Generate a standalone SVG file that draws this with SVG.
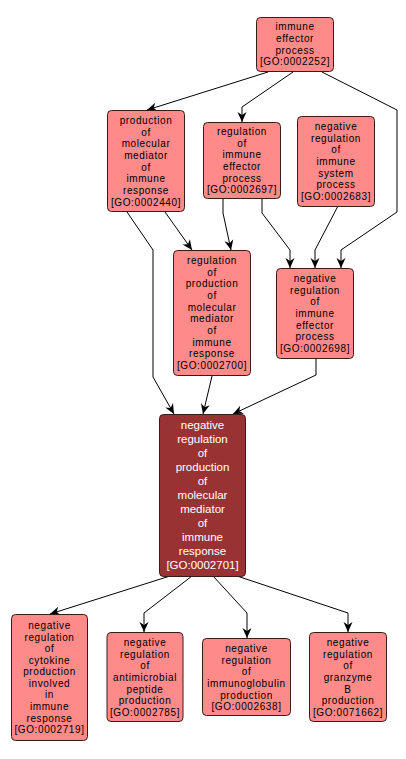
<svg xmlns="http://www.w3.org/2000/svg" width="406" height="759" viewBox="0 0 406 759">
<style>
.n rect{fill:#ff8a8a;stroke:#3a1a1a;stroke-width:1}
.n text{font-family:"Liberation Sans",Arial,sans-serif;font-size:10px;letter-spacing:0.6px;fill:#000;text-anchor:middle}
.c rect{fill:#993333;stroke:#3a1a1a;stroke-width:1}
.c text{font-family:"Liberation Sans",Arial,sans-serif;font-size:11.5px;fill:#fff;text-anchor:middle}
#edges path{fill:none;stroke:#000;stroke-width:1;marker-end:url(#arr)}
</style>
<defs>
<marker id="arr" markerUnits="userSpaceOnUse" markerWidth="12" markerHeight="12" viewBox="-1 -6 12 12" refX="10" refY="0" orient="auto">
<path d="M0,-4.5 L10,0 L0,4.5 L3,0 Z" fill="#000"/>
</marker>
</defs>
<rect width="406" height="759" fill="#fff"/>
<g id="edges">
<path d="M268,72 L147,110"/>
<path d="M293,72 L242,107 L242,122"/>
<path d="M322,72 L397,110 L397,212 L341,250 L341,268"/>
<path d="M165,212 L192,250"/>
<path d="M127,212 L153,250 L153,377 L174,414"/>
<path d="M223,198 L223,213 L231,250"/>
<path d="M262,198 L262,213 L290,250 L290,268"/>
<path d="M338,206 L315,250 L315,268"/>
<path d="M212,376 L203,414"/>
<path d="M316,358 L316,375 L233,414"/>
<path d="M170,576 L50,614"/>
<path d="M192,576 L144,613 L144,632"/>
<path d="M213,576 L247,613 L247,638"/>
<path d="M237,576 L348,613 L348,632"/>
</g>
<g id="n0002252" class="n"><rect x="256.5" y="17.5" width="77" height="54" rx="4"/>
<text x="295" y="30">immune</text><text x="295" y="42">effector</text><text x="295" y="53.5">process</text><text x="295" y="65">[GO:0002252]</text></g>
<g id="n0002440" class="n"><rect x="107.5" y="110.5" width="77" height="101" rx="4"/>
<text x="146" y="124">production</text><text x="146" y="135.5">of</text><text x="146" y="147">molecular</text><text x="146" y="159">mediator</text><text x="146" y="170.5">of</text><text x="146" y="182">immune</text><text x="146" y="194">response</text><text x="146" y="205.5">[GO:0002440]</text></g>
<g id="n0002697" class="n"><rect x="203.5" y="122.5" width="77" height="76" rx="4"/>
<text x="242" y="135">regulation</text><text x="242" y="146.5">of</text><text x="242" y="158">immune</text><text x="242" y="170">effector</text><text x="242" y="181.5">process</text><text x="242" y="193">[GO:0002697]</text></g>
<g id="n0002683" class="n"><rect x="297.5" y="116.5" width="77" height="90" rx="4"/>
<text x="336" y="130">negative</text><text x="336" y="141.5">regulation</text><text x="336" y="153">of</text><text x="336" y="165">immune</text><text x="336" y="176.5">system</text><text x="336" y="188">process</text><text x="336" y="200">[GO:0002683]</text></g>
<g id="n0002700" class="n"><rect x="173.5" y="250.5" width="77" height="125" rx="4"/>
<text x="212" y="264">regulation</text><text x="212" y="275.5">of</text><text x="212" y="287">production</text><text x="212" y="299">of</text><text x="212" y="310.5">molecular</text><text x="212" y="322">mediator</text><text x="212" y="334">of</text><text x="212" y="345.5">immune</text><text x="212" y="357">response</text><text x="212" y="369">[GO:0002700]</text></g>
<g id="n0002698" class="n"><rect x="276.5" y="268.5" width="77" height="90" rx="4"/>
<text x="315" y="282">negative</text><text x="315" y="293.5">regulation</text><text x="315" y="305">of</text><text x="315" y="317">immune</text><text x="315" y="328.5">effector</text><text x="315" y="340">process</text><text x="315" y="352">[GO:0002698]</text></g>
<g id="n0002701" class="c"><rect x="159.5" y="414.5" width="86" height="162" rx="4"/>
<text x="202.5" y="429">negative</text><text x="202.5" y="443">regulation</text><text x="202.5" y="457">of</text><text x="202.5" y="471">production</text><text x="202.5" y="485">of</text><text x="202.5" y="499">molecular</text><text x="202.5" y="513">mediator</text><text x="202.5" y="527">of</text><text x="202.5" y="541">immune</text><text x="202.5" y="555">response</text><text x="202.5" y="569">[GO:0002701]</text></g>
<g id="n0002719" class="n"><rect x="11.5" y="614.5" width="76" height="126" rx="4"/>
<text x="49.5" y="629">negative</text><text x="49.5" y="640.5">regulation</text><text x="49.5" y="652">of</text><text x="49.5" y="663.5">cytokine</text><text x="49.5" y="675">production</text><text x="49.5" y="686.5">involved</text><text x="49.5" y="698">in</text><text x="49.5" y="710">immune</text><text x="49.5" y="721.5">response</text><text x="49.5" y="733">[GO:0002719]</text></g>
<g id="n0002785" class="n"><rect x="107" y="632.5" width="76" height="89" rx="4"/>
<text x="145" y="646">negative</text><text x="145" y="657.5">regulation</text><text x="145" y="669">of</text><text x="145" y="681">antimicrobial</text><text x="145" y="692.5">peptide</text><text x="145" y="704">production</text><text x="145" y="716">[GO:0002785]</text></g>
<g id="n0002638" class="n"><rect x="202.5" y="638.5" width="88" height="77" rx="4"/>
<text x="246.5" y="652">negative</text><text x="246.5" y="663.5">regulation</text><text x="246.5" y="675">of</text><text x="246.5" y="687">immunoglobulin</text><text x="246.5" y="698.5">production</text><text x="246.5" y="710">[GO:0002638]</text></g>
<g id="n0071662" class="n"><rect x="309.5" y="632.5" width="77" height="89" rx="4"/>
<text x="348" y="646">negative</text><text x="348" y="657.5">regulation</text><text x="348" y="669">of</text><text x="348" y="681">granzyme</text><text x="348" y="692.5">B</text><text x="348" y="704">production</text><text x="348" y="716">[GO:0071662]</text></g>
</svg>
